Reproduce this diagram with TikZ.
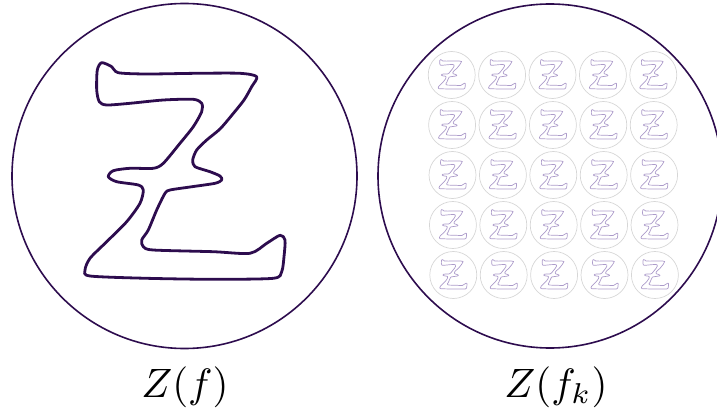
\documentclass[tikz,border=0pt]{standalone}
\definecolor{zdark}{RGB}{45,12,78}
\definecolor{zlight}{RGB}{172,155,202}
\definecolor{cgray}{RGB}{214,214,214}
\newcommand{\zoutline}{plot[smooth cycle, tension=0.45] coordinates {
(101.7,62.7) (111.7,66.7) (118.3,72.7) (146.7,74) (196.7,73.3) (240,73.3) (256.7,76.7)
(251.5,87) (244,100) (232,115) (220,129) (206.7,140) (196.7,150) (192.7,160) (195,166.7)
(210,171.7) (220,176) (221.7,180) (215,183.3) (190,187) (170,190) (165,193.3)
(156.7,210) (148.3,230) (141.7,240) (143.3,246.7) (153.3,250) (213.3,251.7) (250,253.3)
(266.7,243.3) (280,235.3) (285,240) (284,256.7) (281.7,271.7) (273.3,278.3)
(213.3,279.3) (146.7,278.3) (90,276) (85,270) (90,258.3) (106.7,241.7) (126.7,221.7)
(140,203.3) (143.3,190) (138.3,185) (116.7,181.7) (108.3,176.7) (113.3,170.7)
(130,168.3) (153.3,168.3) (163.3,163.3) (180,143.3) (193.3,126.7) (201.7,111.7)
(201.7,103.3) (193.3,99.3) (163.3,100) (130,103.3) (106.7,105) (99.3,101.7)
(96.7,90) (97.3,70)}}
\tikzset{
  bigcircle/.style={draw=zdark, line width=1.6pt},
  bigz/.style={draw=zdark, line width=2.8pt, line join=round},
  smallcircle/.style={draw=cgray, line width=0.7pt},
  smallz/.style={draw=zlight, line width=0.7pt, line join=round},
  lab/.style={anchor=base, inner sep=0pt, scale=4.1, transform shape}
}
\begin{document}
\begin{tikzpicture}[x=1pt, y=-1pt]
\useasboundingbox (0,0) rectangle (717,417);
% left
\draw[bigcircle] (184.5,176) circle[radius=172.5];
\draw[bigz] \zoutline;
% right
\draw[bigcircle] (550,176) circle[radius=172];
\foreach \i in {0,...,4}{
  \foreach \j in {0,...,4}{
    \pgfmathsetmacro{\cx}{451.7+50.4*\i+0.4*\j}
    \pgfmathsetmacro{\cy}{75+50*\j}
    \draw[smallcircle] (\cx,\cy) circle[radius=23.5];
    \begin{scope}[shift={(\cx,\cy)}, scale=0.1362]
      \begin{scope}[shift={(-184.5,-176)}]
        \draw[smallz] \zoutline;
      \end{scope}
    \end{scope}
  }
}
\node[lab] (labf) at (185,397) {$Z(f)$};
\node[lab] (labfk) at (556,397) {$Z(f_k)$};
\end{tikzpicture}
\end{document}
